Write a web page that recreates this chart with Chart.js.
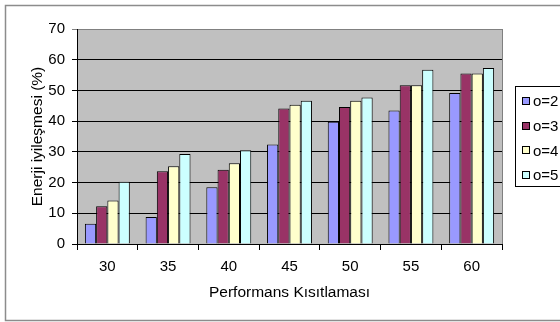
<!DOCTYPE html>
<html>
<head>
<meta charset="utf-8">
<script src="https://cdn.jsdelivr.net/npm/chart.js@4/dist/chart.umd.min.js"></script>
<style>
  html, body { margin: 0; padding: 0; background: #fff; overflow: hidden; }
  #wrap { width: 560px; height: 322px; position: relative; }
</style>
</head>
<body>
<div id="wrap"><canvas id="c" width="560" height="322"></canvas></div>
<script>
// Performance constraint categories
const categories = ['30', '35', '40', '45', '50', '55', '60'];
// Energy improvement (%) for each o value
const o2 = [6.6, 8.8, 18.5, 32.4, 39.8, 43.5, 49.2];
const o3 = [12.3, 23.7, 24.2, 44.1, 44.6, 51.7, 55.5];
const o4 = [14.2, 25.3, 26.3, 45.3, 46.6, 51.7, 55.5];
const o5 = [20.3, 29.3, 30.5, 46.6, 47.7, 56.7, 57.3];
const seriesLabels = ['o=2', 'o=3', 'o=4', 'o=5'];
const seriesColors = ['#9999FF', '#993366', '#FFFFCC', '#CCFFFF'];
const yTicks = [0, 10, 20, 30, 40, 50, 60, 70];

const FONT = 'Arial, "Liberation Sans", sans-serif';

const frame = {
  id: 'frame',
  beforeDraw(chart) {
    const ctx = chart.ctx;
    const a = chart.chartArea;
    ctx.save();
    ctx.fillStyle = '#ffffff';
    ctx.fillRect(0, 0, chart.width, chart.height);
    ctx.strokeStyle = '#8c8c8c';
    ctx.lineWidth = 1.5;
    ctx.strokeRect(5.5, 5.5, 620, 315);
    ctx.fillStyle = '#C0C0C0';
    ctx.fillRect(a.left, a.top, a.right - a.left, a.bottom - a.top);
    ctx.strokeStyle = '#808080';
    ctx.lineWidth = 1;
    ctx.strokeRect(a.left + 0.5, a.top + 0.5, a.right - a.left, a.bottom - a.top);
    ctx.restore();
  },
  afterDraw(chart) {
    const ctx = chart.ctx;
    const bx = 515.5, by = 86.5, bw = 110, bh = 100;
    ctx.save();
    ctx.fillStyle = '#ffffff';
    ctx.fillRect(bx, by, bw, bh);
    ctx.strokeStyle = '#000000';
    ctx.lineWidth = 1;
    ctx.strokeRect(bx, by, bw, bh);
    ctx.font = '15px ' + FONT;
    ctx.textBaseline = 'middle';
    chart.data.datasets.forEach((ds, i) => {
      const cy = 101 + i * 24.7;
      ctx.fillStyle = ds.backgroundColor;
      ctx.fillRect(522, Math.round(cy) - 4, 8, 8);
      ctx.strokeStyle = '#000';
      ctx.strokeRect(522.5, Math.round(cy) - 3.5, 7, 7);
      ctx.fillStyle = '#000';
      ctx.fillText(ds.label, 533, cy + 1);
    });
    ctx.restore();
  }
};

const datasets = [o2, o3, o4, o5].map((vals, i) => ({
  label: seriesLabels[i],
  data: vals,
  backgroundColor: seriesColors[i],
  borderColor: '#000000',
  borderWidth: 1,
  categoryPercentage: 0.74,
  barPercentage: 1.0
}));

new Chart(document.getElementById('c'), {
  type: 'bar',
  data: { labels: categories, datasets },
  options: {
    responsive: false,
    animation: false,
    devicePixelRatio: 1,
    layout: { padding: { left: 24, right: 58, top: 29, bottom: 16 } },
    plugins: { legend: { display: false }, tooltip: { enabled: false } },
    scales: {
      x: {
        afterFit(s) { s.height = 62; },
        grid: { offset: true, drawOnChartArea: false, drawTicks: true, tickLength: 6, color: '#000' },
        border: { color: '#000', width: 1 },
        ticks: { color: '#000', font: { family: FONT, size: 15 }, padding: 8 },
        title: { display: true, text: 'Performans Kısıtlaması', color: '#000', font: { family: FONT, size: 15.5 }, padding: { top: 6 } }
      },
      y: {
        min: 0, max: 70,
        afterFit(s) { s.width = 53; },
        afterBuildTicks(s) { s.ticks = yTicks.map(v => ({ value: v })); },
        grid: { color: ctx => (ctx.tick && ctx.tick.value === 70 ? '#808080' : '#000'), tickLength: 5, drawTicks: true },
        border: { color: '#000', width: 1 },
        ticks: { color: '#000', font: { family: FONT, size: 15 }, padding: 7 },
        title: { display: true, text: 'Enerji iyileşmesi (%)', color: '#000', font: { family: FONT, size: 15.5 }, padding: { bottom: 4 } }
      }
    }
  },
  plugins: [frame]
});
</script>
</body>
</html>
